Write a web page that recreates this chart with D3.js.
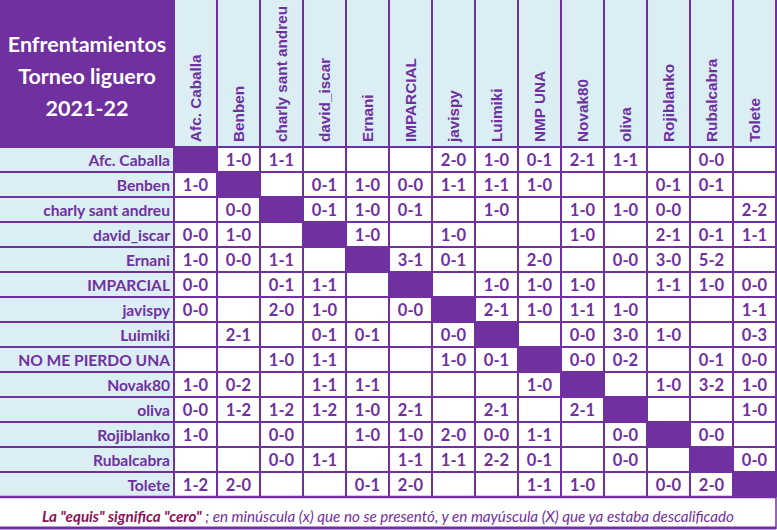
<!DOCTYPE html>
<html>
<head>
<meta charset="utf-8">
<script src="https://cdn.jsdelivr.net/npm/d3@7"></script>
<style>
  html, body { margin: 0; padding: 0; background: #ffffff; }
  svg { display: block; }
</style>
</head>
<body>
<svg id="chart" width="777" height="530"></svg>
<script>
const titleLines = ["Enfrentamientos", "Torneo liguero", "2021-22"];
const rowLabels = ["Afc. Caballa", "Benben", "charly sant andreu", "david_iscar", "Ernani", "IMPARCIAL", "javispy", "Luimiki", "NO ME PIERDO UNA", "Novak80", "oliva", "Rojiblanko", "Rubalcabra", "Tolete"];
const colLabels = ["Afc. Caballa", "Benben", "charly sant andreu", "david_iscar", "Ernani", "IMPARCIAL", "javispy", "Luimiki", "NMP UNA", "Novak80", "oliva", "Rojiblanko", "Rubalcabra", "Tolete"];
// null = diagonal (same team), "" = not played
const results = [
  [null, "1-0", "1-1", "", "", "", "2-0", "1-0", "0-1", "2-1", "1-1", "", "0-0", ""],
  ["1-0", null, "", "0-1", "1-0", "0-0", "1-1", "1-1", "1-0", "", "", "0-1", "0-1", ""],
  ["", "0-0", null, "0-1", "1-0", "0-1", "", "1-0", "", "1-0", "1-0", "0-0", "", "2-2"],
  ["0-0", "1-0", "", null, "1-0", "", "1-0", "", "", "1-0", "", "2-1", "0-1", "1-1"],
  ["1-0", "0-0", "1-1", "", null, "3-1", "0-1", "", "2-0", "", "0-0", "3-0", "5-2", ""],
  ["0-0", "", "0-1", "1-1", "", null, "", "1-0", "1-0", "1-0", "", "1-1", "1-0", "0-0"],
  ["0-0", "", "2-0", "1-0", "", "0-0", null, "2-1", "1-0", "1-1", "1-0", "", "", "1-1"],
  ["", "2-1", "", "0-1", "0-1", "", "0-0", null, "", "0-0", "3-0", "1-0", "", "0-3"],
  ["", "", "1-0", "1-1", "", "", "1-0", "0-1", null, "0-0", "0-2", "", "0-1", "0-0"],
  ["1-0", "0-2", "", "1-1", "1-1", "", "", "", "1-0", null, "", "1-0", "3-2", "1-0"],
  ["0-0", "1-2", "1-2", "1-2", "1-0", "2-1", "", "2-1", "", "2-1", null, "", "", "1-0"],
  ["1-0", "", "0-0", "", "1-0", "1-0", "2-0", "0-0", "1-1", "", "0-0", null, "0-0", ""],
  ["", "", "0-0", "1-1", "", "1-1", "1-1", "2-2", "0-1", "", "0-0", "", null, "0-0"],
  ["1-2", "2-0", "", "", "0-1", "2-0", "", "", "1-1", "1-0", "", "0-0", "2-0", null]
];
const footnoteBold = "La \"equis\" significa \"cero\"";
const footnoteRest = " ; en minúscula (x) que no se presentó, y en mayúscula (X) que ya estaba descalificado";

const purple = "#7030A0";
const lightBlue = "#DAEEF3";
const footRed = "#8E1058";
const calibri = "Lato, 'Open Sans', sans-serif";
const arial = "'Liberation Sans', Arial, sans-serif";

const svg = d3.select("#chart");
const W = 777, H = 530;
const labelW = 174, headerH = 147, gridBottom = 497, right = 776;

const x = d3.scaleBand().domain(d3.range(colLabels.length)).range([labelW, right]);
const y = d3.scaleBand().domain(d3.range(rowLabels.length)).range([headerH, gridBottom]);

svg.append("rect").attr("width", W).attr("height", H).attr("fill", "#fff");

svg.append("rect").attr("x", labelW).attr("y", 0).attr("width", right - labelW).attr("height", headerH).attr("fill", lightBlue);
svg.append("rect").attr("x", 0).attr("y", headerH).attr("width", labelW).attr("height", gridBottom - headerH).attr("fill", lightBlue);
svg.append("rect").attr("x", 0).attr("y", 0).attr("width", labelW).attr("height", headerH).attr("fill", purple);

svg.append("g").selectAll("text").data(titleLines).join("text")
  .attr("x", labelW / 2)
  .attr("y", (d, i) => 52 + i * 32)
  .attr("text-anchor", "middle")
  .attr("font-family", calibri).attr("font-weight", "bold").attr("font-size", 21.5)
  .attr("fill", "#fff")
  .text(d => d);

const cells = [];
results.forEach((row, r) => row.forEach((v, c) => cells.push({ r, c, v })));

svg.append("g").selectAll("rect").data(cells.filter(d => d.v === null)).join("rect")
  .attr("x", d => x(d.c)).attr("y", d => y(d.r))
  .attr("width", x.bandwidth()).attr("height", y.bandwidth())
  .attr("fill", purple);

svg.append("g").selectAll("text").data(cells.filter(d => d.v)).join("text")
  .attr("x", d => x(d.c) + x.bandwidth() / 2)
  .attr("y", d => y(d.r) + y.bandwidth() / 2 + 6)
  .attr("text-anchor", "middle")
  .attr("font-family", calibri).attr("font-weight", "bold").attr("font-size", 16.5)
  .attr("fill", purple)
  .text(d => d.v);

const grid = svg.append("g").attr("stroke", purple).attr("stroke-width", 1.3).attr("shape-rendering", "crispEdges");
grid.selectAll("line.v").data(d3.range(colLabels.length + 1)).join("line")
  .attr("class", "v")
  .attr("x1", i => i < colLabels.length ? x(i) : right).attr("x2", i => i < colLabels.length ? x(i) : right)
  .attr("y1", 0).attr("y2", gridBottom);
grid.selectAll("line.h").data(d3.range(rowLabels.length)).join("line")
  .attr("class", "h")
  .attr("x1", 0).attr("x2", right)
  .attr("y1", i => y(i)).attr("y2", i => y(i));

svg.append("line").attr("x1", 0).attr("x2", right).attr("y1", gridBottom).attr("y2", gridBottom)
  .attr("stroke", purple).attr("stroke-width", 2.5);
svg.append("line").attr("x1", 0).attr("x2", right).attr("y1", 528).attr("y2", 528)
  .attr("stroke", purple).attr("stroke-width", 3);
svg.append("line").attr("x1", right).attr("x2", right).attr("y1", gridBottom).attr("y2", 529)
  .attr("stroke", purple).attr("stroke-width", 1.5);

svg.append("g").selectAll("text").data(rowLabels).join("text")
  .attr("x", labelW - 4)
  .attr("y", (d, i) => y(i) + y.bandwidth() / 2 + 6)
  .attr("text-anchor", "end")
  .attr("font-family", calibri).attr("font-weight", "bold").attr("font-size", 15.6)
  .attr("fill", purple)
  .text(d => d);

svg.append("g").selectAll("text").data(colLabels).join("text")
  .attr("transform", (d, i) => `translate(${x(i) + x.bandwidth() / 2 + 5.5},${headerH - 5}) rotate(-90)`)
  .attr("text-anchor", "start")
  .attr("font-family", arial).attr("font-weight", "bold").attr("font-size", 15.3)
  .attr("fill", purple)
  .text(d => d);

const foot = svg.append("text")
  .attr("x", 388).attr("y", 522)
  .attr("text-anchor", "middle")
  .attr("font-family", calibri).attr("font-style", "italic").attr("font-size", 15.2);
foot.append("tspan").attr("font-weight", "bold").attr("fill", footRed).text(footnoteBold);
foot.append("tspan").attr("fill", purple).text(footnoteRest);
</script>
</body>
</html>
